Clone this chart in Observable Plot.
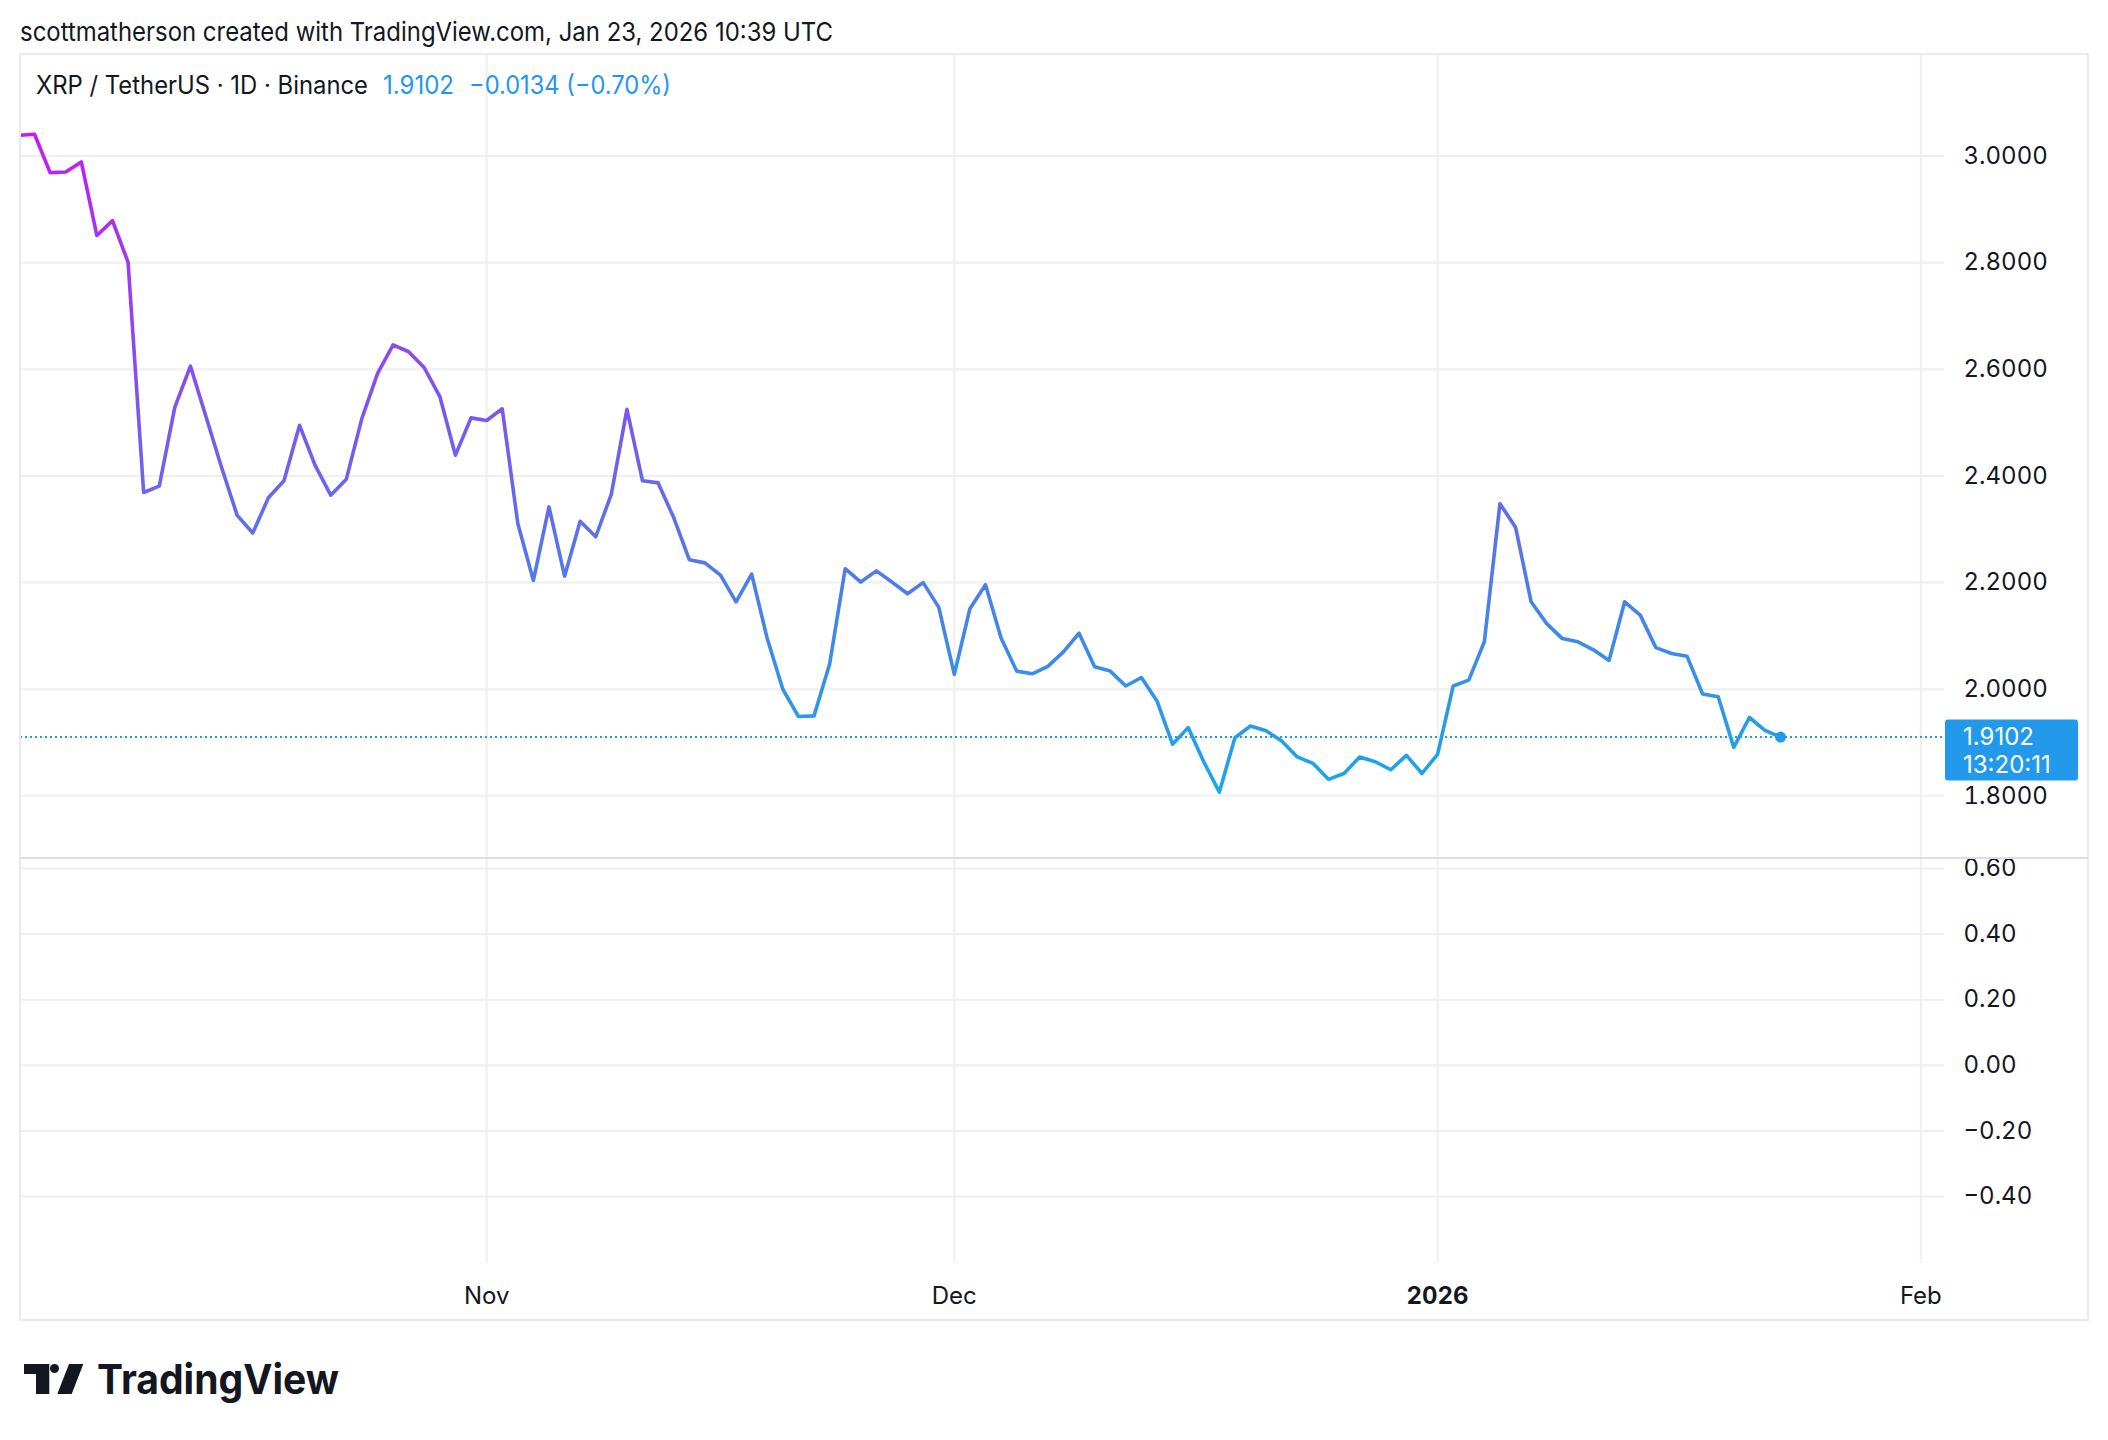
<!DOCTYPE html>
<html><head><meta charset="utf-8">
<script src="https://cdn.jsdelivr.net/npm/d3@7"></script>
<script src="https://cdn.jsdelivr.net/npm/@observablehq/plot@0.6"></script>
<style>
html,body{margin:0;padding:0;background:#fff;}
#page{position:relative;width:2108px;height:1440px;overflow:hidden;font-family:Inter,"Noto Sans",sans-serif;color:#131722;}
.pane{position:absolute;left:20px;}
#deco{position:absolute;left:0;top:0;pointer-events:none;}
</style></head><body>
<div id="page">
  <div id="paneTop" class="pane" style="top:54px"></div>
  <div id="paneBot" class="pane" style="top:857px"></div>
  <svg id="deco" width="2108" height="1440" xmlns="http://www.w3.org/2000/svg"></svg>
</div>
<script>
(function () {
// ---------------- data ----------------
const startDate = "2025-10-02"; // first daily close shown
const closes = [
  // Oct 2 – Oct 31
  3.039, 3.041, 2.969, 2.970, 2.989, 2.851, 2.879, 2.801, 2.369, 2.381,
  2.529, 2.606, 2.511, 2.416, 2.326, 2.293, 2.359, 2.391, 2.495, 2.420,
  2.364, 2.394, 2.508, 2.592, 2.646, 2.633, 2.603, 2.549, 2.439, 2.509,
  // Nov 1 – Nov 30
  2.504, 2.526, 2.311, 2.204, 2.342, 2.212, 2.315, 2.286, 2.366, 2.525,
  2.391, 2.387, 2.322, 2.243, 2.237, 2.214, 2.164, 2.216, 2.095, 2.000,
  1.949, 1.950, 2.047, 2.226, 2.201, 2.222, 2.201, 2.179, 2.200, 2.154,
  // Dec 1 – Dec 31
  2.028, 2.151, 2.196, 2.096, 2.034, 2.029, 2.043, 2.070, 2.105, 2.042,
  2.034, 2.006, 2.022, 1.978, 1.897, 1.928, 1.864, 1.807, 1.909, 1.931,
  1.922, 1.903, 1.873, 1.861, 1.831, 1.842, 1.873, 1.864, 1.849, 1.876,
  1.842,
  // Jan 1 – Jan 23
  1.878, 2.006, 2.017, 2.089, 2.348, 2.304, 2.164, 2.123, 2.095, 2.089,
  2.074, 2.054, 2.164, 2.139, 2.078, 2.067, 2.062, 1.991, 1.986, 1.891,
  1.947, 1.923, 1.9102
];
const priceTicks = [1.8, 2.0, 2.2, 2.4, 2.6, 2.8, 3.0];
const lowerTicks = [-0.4, -0.2, 0, 0.2, 0.4, 0.6];
const timeTickDates = ["2025-11-01", "2025-12-01", "2026-01-01", "2026-02-01"];
const timeTickLabels = ["Nov", "Dec", "2026", "Feb"];
const timeTickBold = [false, false, true, false];
const lastPrice = 1.9102;
const changeText = "\u22120.0134 (\u22120.70%)";
const countdown = "13:20:11";
const titleText = "scottmatherson created with TradingView.com, Jan 23, 2026 10:39 UTC";
const symbolText = "XRP / TetherUS \u00b7 1D \u00b7 Binance";
const brandText = "TradingView";

// ---------------- build ----------------
const t0 = new Date(startDate + "T00:00:00Z");
const data = closes.map((v, i) => ({date: d3.utcDay.offset(t0, i), close: v}));
const timeTicks = timeTickDates.map(s => new Date(s + "T00:00:00Z"));
const labelOf = d => timeTickLabels[timeTicks.findIndex(t => +t === +d)];
const boldTicks = timeTicks.filter((t, i) => timeTickBold[i]);
const normalTicks = timeTicks.filter((t, i) => !timeTickBold[i]);

const W = 2068, TOP_H = 803, BOT_H = 463;
const xDomain = [new Date(Date.UTC(2025, 9, 2, 2, 24)), new Date(Date.UTC(2026, 1, 2, 12, 24))];
const gridColor = "#efeff2";
const textColor = "#131722";
const accent = "#2299ea";
const lineTop = "#c21cf5", lineBottom = "#18a9e6";
const fontStyle = {fontFamily: "Inter, 'Noto Sans', sans-serif", fontSize: "24px", background: "transparent", overflow: "visible", color: textColor};

const chartTop = Plot.plot({
  width: W, height: TOP_H,
  marginLeft: 0, marginRight: 144, marginTop: 0, marginBottom: 0,
  style: fontStyle,
  x: {type: "utc", domain: xDomain, axis: null},
  y: {domain: [1.6844, 3.1905], axis: null},
  marks: [
    Plot.ruleX(timeTicks, {stroke: gridColor, strokeWidth: 2}),
    Plot.ruleY(priceTicks, {stroke: gridColor, strokeWidth: 2}),
    Plot.ruleY([lastPrice], {stroke: accent, strokeWidth: 2, strokeDasharray: "2,3"}),
    Plot.line(data, {x: "date", y: "close", stroke: "url(#lineGrad)", strokeWidth: 3.6, strokeLinejoin: "round", clip: true}),
    Plot.dot(data.slice(-1), {x: "date", y: "close", r: 5.5, fill: accent, stroke: null}),
    Plot.axisY(priceTicks, {anchor: "right", label: null, tickSize: 0, tickPadding: 19, tickFormat: d3.format(".4f"), fill: textColor, fontSize: 24})
  ]
});
document.getElementById("paneTop").appendChild(chartTop);

// gradient by price (purple high -> blue low)
const ys = chartTop.scale("y");
const NS = "http://www.w3.org/2000/svg";
const svgTop = chartTop.tagName.toLowerCase() === "svg" ? chartTop : chartTop.querySelector("svg");
const defs = document.createElementNS(NS, "defs");
const lg = document.createElementNS(NS, "linearGradient");
lg.setAttribute("id", "lineGrad");
lg.setAttribute("gradientUnits", "userSpaceOnUse");
lg.setAttribute("x1", 0); lg.setAttribute("x2", 0);
lg.setAttribute("y1", ys.apply(d3.max(closes)));
lg.setAttribute("y2", ys.apply(d3.min(closes)));
[[0, lineTop], [1, lineBottom]].forEach(([o, c]) => {
  const s = document.createElementNS(NS, "stop");
  s.setAttribute("offset", o); s.setAttribute("stop-color", c);
  lg.appendChild(s);
});
defs.appendChild(lg);
svgTop.insertBefore(defs, svgTop.firstChild);

const chartBot = Plot.plot({
  width: W, height: BOT_H,
  marginLeft: 0, marginRight: 144, marginTop: 0, marginBottom: 57,
  style: fontStyle,
  x: {type: "utc", domain: xDomain, axis: null},
  y: {domain: [-0.6043, 0.6335], axis: null},
  marks: [
    Plot.ruleX(timeTicks, {stroke: gridColor, strokeWidth: 2}),
    Plot.ruleY(lowerTicks, {stroke: gridColor, strokeWidth: 2}),
    Plot.axisY(lowerTicks, {anchor: "right", label: null, tickSize: 0, tickPadding: 19, tickFormat: d3.format(".2f"), fill: textColor, fontSize: 24}),
    Plot.axisX(normalTicks, {anchor: "bottom", label: null, tickSize: 0, tickPadding: 23, tickFormat: labelOf, fill: textColor, fontSize: 24}),
    Plot.axisX(boldTicks, {anchor: "bottom", label: null, tickSize: 0, tickPadding: 23, tickFormat: labelOf, fill: textColor, fontSize: 24, fontWeight: "bold"})
  ]
});
document.getElementById("paneBot").appendChild(chartBot);

// ---------------- decoration (frame, header, legend, price tag, logo) ----------------
const deco = document.getElementById("deco");
function el(tag, attrs, text, parent) {
  const e = document.createElementNS(NS, tag);
  for (const k in attrs) e.setAttribute(k, attrs[k]);
  if (text != null) e.textContent = text;
  (parent || deco).appendChild(e);
  return e;
}
const ff = "Inter, 'Noto Sans', sans-serif";
el("rect", {x: 20, y: 54, width: 2068, height: 1266, fill: "none", stroke: "#e9eaed", "stroke-width": 2});
el("line", {x1: 20, x2: 2088, y1: 858, y2: 858, stroke: "#dcdee3", "stroke-width": 2});
el("text", {x: 20, y: 40.5, "font-family": ff, "font-size": 26, fill: textColor, textLength: 813, lengthAdjust: "spacingAndGlyphs"}, titleText);
el("text", {x: 36, y: 94, "font-family": ff, "font-size": 25, fill: textColor, textLength: 332, lengthAdjust: "spacingAndGlyphs"}, symbolText);
el("text", {x: 383, y: 94, "font-family": ff, "font-size": 25, fill: "#2196f3", textLength: 71, lengthAdjust: "spacingAndGlyphs"}, d3.format(".4f")(lastPrice));
el("text", {x: 469, y: 94, "font-family": ff, "font-size": 25, fill: "#2196f3", textLength: 202, lengthAdjust: "spacingAndGlyphs"}, changeText);

// price tag on the axis
const yb = 54 + ys.apply(lastPrice);
el("rect", {x: 1945, y: yb - 17, width: 133, height: 61, rx: 3, fill: accent});
el("text", {x: 1963, y: yb + 8.5, "font-family": ff, "font-size": 24, fill: "#fff"}, d3.format(".4f")(lastPrice));
el("text", {x: 1963, y: yb + 36.5, "font-family": ff, "font-size": 24, fill: "#fff"}, countdown);

// TradingView logo
const g = el("g", {transform: "translate(24,1364)", fill: "#131722"});
el("path", {d: "M0 0 H25.3 V30 H12 V10 H0 Z"}, null, g);
el("circle", {cx: 30.5, cy: 4.5, r: 4.5}, null, g);
el("path", {d: "M45 0 H59.3 L47.7 30 H33.3 Z"}, null, g);
el("text", {x: 97, y: 1394, "font-family": ff, "font-size": 41, "font-weight": 700, fill: "#131722", textLength: 242, lengthAdjust: "spacingAndGlyphs"}, brandText);
})();
</script>
</body></html>
